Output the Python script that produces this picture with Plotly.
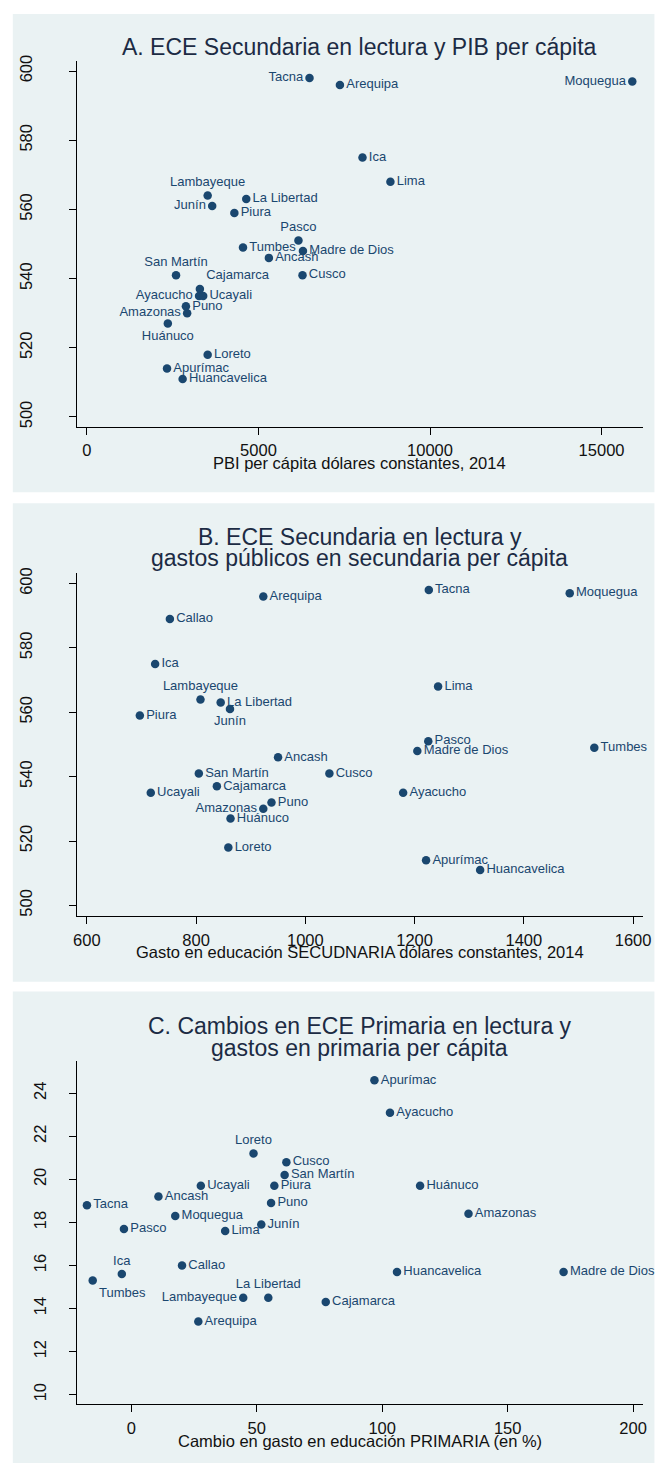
import plotly.graph_objects as go

# ---------------- data ----------------
regions = ["Amazonas", "Ancash", "Apurímac", "Arequipa", "Ayacucho", "Cajamarca",
           "Callao", "Cusco", "Huancavelica", "Huánuco", "Ica", "Junín",
           "La Libertad", "Lambayeque", "Lima", "Loreto", "Madre de Dios",
           "Moquegua", "Pasco", "Piura", "Puno", "San Martín", "Tacna",
           "Tumbes", "Ucayali"]

ece_secundaria = [530, 546, 514, 596, 535, 537, 589, 541, 511, 527, 575, 561,
                  563, 564, 568, 518, 548, 597, 551, 559, 532, 541, 598, 549, 535]

pib_per_capita = [2921, 5303, 2334, 7374, 3268, 3292, None, 6284, 2789, 2358,
                  8032, 3651, 4644, 3519, 8846, 3519, 6296, 15896, 6165, 4297,
                  2885, 2597, 6488, 4549, 3388]

gasto_secundaria = [923, 950, 1221, 923, 1179, 838, 752, 1044, 1320, 863, 725,
                    862, 845, 808, 1243, 859, 1205, 1484, 1225, 697, 938, 805,
                    1226, 1529, 717]

cambio_gasto_primaria = [134.4, 10.8, 96.9, 26.7, 103.1, 77.5, 20.2, 61.8, 105.9,
                         115.1, -3.8, 51.8, 54.6, 44.6, 37.4, 48.7, 172.3, 17.5,
                         -2.95, 57.0, 55.7, 61.1, -17.7, -15.4, 27.7]

cambio_ece_primaria = [18.4, 19.2, 24.6, 13.4, 23.1, 14.3, 16.0, 20.8, 15.7, 19.7,
                       15.6, 17.9, 14.5, 14.5, 17.6, 21.2, 15.7, 18.3, 17.7, 19.7,
                       18.9, 20.2, 18.8, 15.3, 19.7]

titles = [["A. ECE Secundaria en lectura y PIB per cápita"],
          ["B. ECE Secundaria en lectura y",
           "gastos públicos en secundaria per cápita"],
          ["C. Cambios en ECE Primaria en lectura y",
           "gastos en primaria per cápita"]]
xtitles = ["PBI per cápita dólares constantes, 2014",
           "Gasto en educación SECUDNARIA dólares constantes, 2014",
           "Cambio en gasto en educación PRIMARIA (en %)"]
xticks = [[0, 5000, 10000, 15000],
          [600, 800, 1000, 1200, 1400, 1600],
          [0, 50, 100, 150, 200]]
yticks = [[500, 520, 540, 560, 580, 600],
          [500, 520, 540, 560, 580, 600],
          [10, 12, 14, 16, 18, 20, 22, 24]]

# ---------------- style ----------------
W, H = 657, 1465
NAVY = "#1a476f"
BG = "#eaf2f3"
FONT = "Liberation Sans, Arial, sans-serif"
TITLE_C = "#1c2b44"

label_pos = [
    {"Tacna": "middle left", "Moquegua": "middle left", "Junín": "middle left",
     "Ayacucho": "middle left", "Amazonas": "middle left",
     "Lambayeque": "top center", "Pasco": "top center", "San Martín": "top center",
     "Cajamarca": "top right", "Huánuco": "bottom center"},
    {"Lambayeque": "top center", "Junín": "bottom center", "Amazonas": "middle left"},
    {"Loreto": "top center", "Ica": "top center", "La Libertad": "top center",
     "Tumbes": "bottom right", "Lambayeque": "middle left"},
]

# pixel layout
x_px = (74.5, 651.5)
plot_px = [(55, 423), (570, 915), (1061, 1406)]
panel_px = [(8, 489), (500, 981), (991, 1465)]
title_px = [[41], [533.5, 555], [1026, 1047.5]]
xtitle_px = [460, 951, 1443]
xranges = [[-289, 16197], [582, 1617.4], [-21.65, 203.8]]
yranges = [[497.2, 603.0], [496.7, 603.3], [9.55, 25.49]]
ystandoff = [30, 30, 16]

def py(p):
    return 1 - p / H

xs = [pib_per_capita, gasto_secundaria, cambio_gasto_primaria]
ys = [ece_secundaria, ece_secundaria, cambio_ece_primaria]

fig = go.Figure()
shapes, annotations = [], []
layout = {}
for i in range(3):
    sfx = "" if i == 0 else str(i + 1)
    fig.add_trace(go.Scatter(
        x=xs[i], y=ys[i], text=regions, mode="markers+text",
        textposition=[label_pos[i].get(r, "middle right") for r in regions],
        textfont=dict(family=FONT, size=13, color=NAVY),
        marker=dict(color=NAVY, size=8.5, line=dict(width=0)),
        cliponaxis=False, showlegend=False, hoverinfo="skip",
        xaxis="x" + sfx, yaxis="y" + sfx))
    layout["xaxis" + sfx] = dict(
        domain=[x_px[0] / W, x_px[1] / W], anchor="y" + sfx,
        range=xranges[i], tickvals=xticks[i], ticktext=[str(v) for v in xticks[i]],
        ticks="outside", ticklen=7,
        tickcolor="#000", tickwidth=1, showline=True, linecolor="#000",
        linewidth=1, showgrid=False, zeroline=False,
        tickfont=dict(family=FONT, size=16.5, color="#111"),
        ticklabelstandoff=2)
    layout["yaxis" + sfx] = dict(
        domain=[py(plot_px[i][1]), py(plot_px[i][0])], anchor="x" + sfx,
        range=yranges[i], tickvals=yticks[i], ticktext=[str(v) for v in yticks[i]],
        ticks="outside", ticklen=7,
        tickcolor="#000", tickwidth=1, showline=True, linecolor="#000",
        linewidth=1, showgrid=True, gridcolor=BG, gridwidth=1.5,
        zeroline=False, tickangle=-90,
        tickfont=dict(family=FONT, size=16.5, color="#111"),
        ticklabelstandoff=ystandoff[i])
    shapes.append(dict(type="rect", xref="paper", yref="paper", layer="below",
                       x0=9 / W, x1=1.01, y0=py(panel_px[i][1]), y1=py(panel_px[i][0]),
                       fillcolor=BG, line=dict(width=0)))
    cx = (x_px[0] + x_px[1]) / 2 / W
    for line, ypx in zip(titles[i], title_px[i]):
        annotations.append(dict(text=line, x=cx, y=py(ypx), xref="paper", yref="paper",
                                xanchor="center", yanchor="middle", showarrow=False,
                                font=dict(family=FONT, size=23, color=TITLE_C)))
    annotations.append(dict(text=xtitles[i], x=cx, y=py(xtitle_px[i]), xref="paper",
                            yref="paper", xanchor="center", yanchor="middle",
                            showarrow=False,
                            font=dict(family=FONT, size=16.5, color="#111")))

fig.update_layout(width=W, height=H, margin=dict(l=0, r=0, t=0, b=0),
                  paper_bgcolor="white", plot_bgcolor="white",
                  shapes=shapes, annotations=annotations, **layout)
fig.write_html("out.html", config={"responsive": False, "displayModeBar": False},
               post_script="document.body.style.margin='0';document.body.style.overflow='hidden';")
